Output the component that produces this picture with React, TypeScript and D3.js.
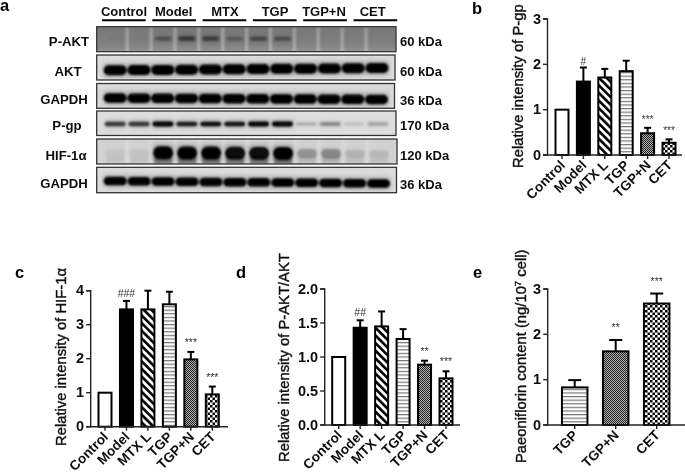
import React, { useEffect, useRef } from "react";
import * as d3 from "d3";

// ---------- bar-chart data ----------
const sixGroups = ["Control", "Model", "MTX L", "TGP", "TGP+N", "CET"];
const threeGroups = ["TGP", "TGP+N", "CET"];

const pgpValues = [1, 1.62, 1.71, 1.85, 0.48, 0.27];
const pgpErrTops = [1, 1.93, 1.9, 2.08, 0.6, 0.345];
const pgpMarks = ["", "#", "", "", "***", "***"];

const hifValues = [1, 3.45, 3.45, 3.6, 1.98, 0.95];
const hifErrTops = [1, 3.7, 4.0, 3.97, 2.2, 1.18];
const hifMarks = ["", "###", "", "", "***", "***"];

const paktValues = [1, 1.43, 1.45, 1.265, 0.887, 0.686];
const paktErrTops = [1, 1.54, 1.67, 1.41, 0.946, 0.79];
const paktMarks = ["", "##", "", "", "**", "***"];

const paeValues = [0.83, 1.625, 2.68];
const paeErrTops = [0.99, 1.875, 2.9];
const paeMarks = ["", "**", "***"];

// ---------- blot data (relative band intensity per lane) ----------
const laneIds = d3.range(12);
const blotGroups = ["Control", "Model", "MTX", "TGP", "TGP+N", "CET"];
const pAktBands = [0.05, 0.05, 0.4, 0.65, 0.6, 0.35, 0.5, 0.45, 0.02, 0.02, 0.0, 0.0];
const aktBands = [1, 1, 1, 1, 1, 1, 1, 1, 1, 1, 1, 1];
const gapdhBands1 = [1, 1, 1, 1, 1, 1, 1, 1, 1, 1, 1, 1];
const pgpBands = [0.7, 0.72, 1, 0.85, 0.95, 0.9, 0.98, 1, 0.2, 0.36, 0.12, 0.24];
const hifBands = [0.05, 0.06, 1, 1, 1, 0.95, 0.95, 1, 0.25, 0.3, 0.12, 0.1];
const gapdhBands2 = [1, 1, 1, 1, 1, 1, 1, 1, 1, 1, 1, 1];

const blotNames = ["P-AKT", "AKT", "GAPDH", "P-gp", "HIF-1α", "GAPDH"];
const blotSizes = ["60 kDa", "60 kDa", "36 kDa", "170 kDa", "120 kDa", "36 kDa"];

// ---------- layout ----------
const FONT = "'Liberation Sans', Arial, sans-serif";

const blotLayout = [
  { bands: pAktBands, top: 26.7, bottom: 51.7, left: 96.7, right: 396, yc: 38.5, yEnd: 39, thick: 5, w: 17, bg: "#848484", nameX: 69, base: 45.7, sizeBase: 46 },
  { bands: aktBands, top: 55, bottom: 80, left: 96.7, right: 395, yc: 70.3, yEnd: 68, thick: 10, w: 23, bg: "#dcdcdc", nameX: 68, base: 76, sizeBase: 76 },
  { bands: gapdhBands1, top: 83.5, bottom: 108.3, left: 96.7, right: 394.5, yc: 98, yEnd: 99.5, thick: 9.5, w: 23, bg: "#dadada", nameX: 64, base: 104, sizeBase: 104.5 },
  { bands: pgpBands, top: 111, bottom: 135.5, left: 96.7, right: 396, yc: 124, yEnd: 124, thick: 4.8, w: 21, bg: "#dedede", nameX: 67, base: 129.5, sizeBase: 129.5 },
  { bands: hifBands, top: 139, bottom: 164, left: 96.7, right: 397, yc: 152.5, yEnd: 154, thick: 13, w: 20, bg: "#d2d2d2", nameX: 66, base: 160, sizeBase: 160 },
  { bands: gapdhBands2, top: 167.3, bottom: 192.7, left: 96.7, right: 396.5, yc: 181, yEnd: 183.5, thick: 8.5, w: 23, bg: "#dcdcdc", nameX: 64, base: 187.7, sizeBase: 188.5 },
];

const groupLabelX = [124, 173.7, 225, 275, 324, 372.7];

const fills: Record<string, string> = {
  Control: "#fff",
  Model: "#000",
  "MTX L": "url(#diag)",
  TGP: "url(#horiz)",
  "TGP+N": "url(#fine)",
  CET: "url(#check)",
};

function Axes({ x, y, ticks, fmt, x0, xEnd, rotate }: any) {
  const yRef = useRef<SVGGElement>(null);
  const xRef = useRef<SVGGElement>(null);
  useEffect(() => {
    const yG = d3.select(yRef.current!);
    yG.call(d3.axisLeft(y).tickValues(ticks).tickSize(4.5).tickPadding(2).offset(0).tickFormat(fmt) as any);
    yG.selectAll("text").attr("font-family", FONT).attr("font-weight", "700").attr("font-size", 14.5).attr("fill", "#111");
    yG.selectAll("line").attr("stroke", "#222").attr("stroke-width", 1.4);
    yG.select(".domain").attr("stroke", "#222").attr("stroke-width", 1.4);

    const xG = d3.select(xRef.current!);
    xG.call(d3.axisBottom(x).tickSize(4).offset(0) as any);
    xG.select(".domain").remove();
    xG.selectAll("line").attr("stroke", "#222").attr("stroke-width", 1.4);
    xG.selectAll("text")
      .attr("font-family", FONT)
      .attr("font-weight", "700")
      .attr("font-size", 13.6)
      .attr("fill", "#111")
      .attr("text-anchor", "end")
      .attr("dy", 0)
      .attr("y", 0)
      .attr("transform", rotate);
  }, []);
  const [y0] = y.range();
  return (
    <g>
      <g ref={yRef} transform={`translate(${x0},0)`} />
      <g ref={xRef} transform={`translate(0,${y0})`} />
      <line x1={x0} x2={xEnd} y1={y0} y2={y0} stroke="#222" strokeWidth={1.4} />
    </g>
  );
}

function BarPanel(p: any) {
  const { cats, values, tops, marks, c0, cN, barW, capW, x0, xEnd, yTop, yBot, max, ticks, fmt, markGap, markSize } = p;
  const x = d3.scalePoint<string>().domain(cats).range([c0, cN]);
  const y = d3.scaleLinear().domain([0, max]).range([yBot, yTop]);
  return (
    <g>
      {cats.map((c: string, i: number) => {
        const cx = x(c)!;
        return (
          <g key={c}>
            {tops[i] > values[i] && (
              <g stroke="#000" strokeWidth={2}>
                <line x1={cx} x2={cx} y1={y(values[i])} y2={y(tops[i])} />
                <line x1={cx - capW / 2} x2={cx + capW / 2} y1={y(tops[i])} y2={y(tops[i])} />
              </g>
            )}
            <rect x={cx - barW / 2} y={y(values[i])} width={barW} height={yBot - y(values[i])} fill={fills[c]} stroke="#000" strokeWidth={2} />
            {marks[i] && (
              <text
                x={cx}
                y={y(tops[i]) - markGap + (marks[i].includes("*") ? 2 : 4)}
                textAnchor="middle"
                fontFamily={FONT}
                fontSize={markSize}
                fill="#333"
              >
                {marks[i]}
              </text>
            )}
          </g>
        );
      })}
      <Axes x={x} y={y} ticks={ticks} fmt={fmt} x0={x0} xEnd={xEnd} rotate={p.rotate} />
      <text
        transform={`translate(${p.labelX},${p.labelY}) rotate(-90)`}
        fontFamily={FONT}
        fontSize={p.labelSize}
        stroke="#111"
        strokeWidth={0.4}
        fill="#111"
      >
        {p.label}
        {p.sup && (
          <>
            <tspan fontSize={9.5} dy={-5}>{p.sup}</tspan>
            <tspan dy={5}>{p.labelEnd}</tspan>
          </>
        )}
      </text>
    </g>
  );
}

function Blot({ b, id }: any) {
  const lane = d3.scalePoint<number>().domain(laneIds).range([b.left + 18.5, b.right - 18]);
  const isPAkt = b.bands === pAktBands;
  const isHif = b.bands === hifBands;
  const thick = d3.scaleSqrt().domain([0, 1]).range([isHif ? 5 : 1.8, b.thick]);
  const yAt = d3.scaleLinear().domain([0, 11]).range([b.yc, b.yEnd]);
  const step = lane.step();
  const h = b.bottom - b.top;
  const gapLanes = laneIds.slice(0, 11);
  return (
    <g>
      <clipPath id={`clip${id}`}>
        <rect x={b.left} y={b.top} width={b.right - b.left} height={h} />
      </clipPath>
      <g clipPath={`url(#clip${id})`}>
        <rect x={b.left} y={b.top} width={b.right - b.left} height={h} fill={b.bg} />
        {(isPAkt || isHif) && (
          <g filter="url(#blur1)">
            {gapLanes.map((i) => (
              <rect
                key={i}
                x={lane(i)! + step / 2 - 1.6}
                y={b.top - 3}
                width={3.2}
                height={h + 6}
                fill="#fff"
                opacity={isPAkt ? 0.33 : 0.2}
              />
            ))}
          </g>
        )}
        {isPAkt && <rect x={b.left} y={b.top} width={b.right - b.left} height={h} fill="url(#vshade)" />}
        <g filter="url(#blur3)">
          {b.bands.map((v: number, i: number) => (
            <rect
              key={i}
              x={lane(i)! - b.w / 2}
              y={yAt(i) - thick(v) / 2 - 1.5}
              width={b.w}
              height={thick(v) + 3}
              fill="#000"
              opacity={v * (isPAkt ? 0.3 : 0.28)}
            />
          ))}
        </g>
        {isHif && (
          <g filter="url(#blur1)">
            {b.bands.map((v: number, i: number) => (
              <rect key={i} x={lane(i)! - 9} y={yAt(i) + 3} width={18} height={8} fill="#000" opacity={Math.max(v * 0.4, 0.07)} />
            ))}
          </g>
        )}
        <g filter="url(#blur1)">
          {b.bands.map((v: number, i: number) => (
            <rect
              key={i}
              x={lane(i)! - b.w / 2}
              y={yAt(i) - thick(v) / 2}
              width={b.w}
              height={thick(v)}
              rx={thick(v) / 2}
              fill="#000"
              opacity={isPAkt ? v * 0.75 : v}
            />
          ))}
        </g>
      </g>
      <rect x={b.left} y={b.top} width={b.right - b.left} height={h} fill="none" stroke="#333" strokeWidth={1.3} />
      <text x={b.nameX} y={b.base} textAnchor="middle" fontFamily={FONT} fontWeight={700} fontSize={13.2} fill="#111">
        {blotNames[id]}
      </text>
      <text x={400} y={b.sizeBase} fontFamily={FONT} fontWeight={700} fontSize={13} fill="#111">
        {blotSizes[id]}
      </text>
    </g>
  );
}

const letter = (t: string, x: number, y: number) => (
  <text x={x} y={y} fontFamily={FONT} fontWeight={700} fontSize={16.5} fill="#000">
    {t}
  </text>
);

const rotate = "translate(4,11) rotate(-45)";

export default function App() {
  return (
    <svg width={685} height={473} style={{ position: "absolute", left: 0, top: 0, background: "#fff" }}>
      <defs>
        <filter id="blur1" x="-20%" y="-50%" width="140%" height="200%">
          <feGaussianBlur stdDeviation={1} />
        </filter>
        <filter id="blur3" x="-20%" y="-100%" width="140%" height="300%">
          <feGaussianBlur stdDeviation={2.5} />
        </filter>
        <filter id="soft" x="0" y="0" width="685" height="473" filterUnits="userSpaceOnUse">
          <feGaussianBlur stdDeviation={0.3} />
        </filter>
        <linearGradient id="vshade" x1="0" x2="0" y1="0" y2="1">
          <stop offset="0" stopColor="#000" stopOpacity={0.1} />
          <stop offset="0.5" stopColor="#000" stopOpacity={0.05} />
          <stop offset="1" stopColor="#fff" stopOpacity={0.12} />
        </linearGradient>
        <pattern id="diag" width={5.4} height={5.4} patternUnits="userSpaceOnUse" patternTransform="rotate(-45)">
          <rect width={5.4} height={5.4} fill="#fff" />
          <rect width={2.6} height={5.4} fill="#000" />
        </pattern>
        <pattern id="horiz" width={3.6} height={3.6} patternUnits="userSpaceOnUse">
          <rect width={3.6} height={3.6} fill="#fff" />
          <rect y={0} width={3.6} height={1.2} fill="#777" />
        </pattern>
        <pattern id="fine" width={2} height={2} patternUnits="userSpaceOnUse">
          <rect width={2} height={2} fill="#b0b0b0" />
          <rect width={1} height={1} fill="#222" />
          <rect x={1} y={1} width={1} height={1} fill="#222" />
        </pattern>
        <pattern id="check" width={5} height={5} patternUnits="userSpaceOnUse">
          <rect width={5} height={5} fill="#fff" />
          <rect width={2.5} height={2.5} fill="#000" />
          <rect x={2.5} y={2.5} width={2.5} height={2.5} fill="#000" />
        </pattern>
      </defs>
      <g filter="url(#soft)">
        {letter("a", 0, 11)}
        {letter("b", 472, 14)}
        {letter("c", 15, 278)}
        {letter("d", 236, 278)}
        {letter("e", 473, 278)}

        {blotGroups.map((g, i) => (
          <g key={g}>
            <text x={groupLabelX[i]} y={15.5} textAnchor="middle" fontFamily={FONT} fontWeight={700} fontSize={13} fill="#111">
              {g}
            </text>
            <line x1={102 + i * 50.3} x2={145.7 + i * 50.3} y1={20.3} y2={20.3} stroke="#000" strokeWidth={2} />
          </g>
        ))}
        {blotLayout.map((b, i) => (
          <Blot key={i} b={b} id={i} />
        ))}

        <BarPanel
          cats={sixGroups} values={pgpValues} tops={pgpErrTops} marks={pgpMarks}
          c0={562} cN={669} barW={13} capW={7} x0={547.5} xEnd={682} yTop={19} yBot={155} max={3}
          ticks={[0, 1, 2, 3]} fmt={d3.format("d")} markGap={7} markSize={10} rotate={rotate}
          label="Relative intensity of P-gp" labelX={523} labelY={168} labelSize={14.8}
        />
        <BarPanel
          cats={sixGroups} values={hifValues} tops={hifErrTops} marks={hifMarks}
          c0={105} cN={212.3} barW={13} capW={7} x0={90.7} xEnd={228} yTop={290.7} yBot={426.7} max={4}
          ticks={[0, 1, 2, 3, 4]} fmt={d3.format("d")} markGap={8} markSize={10.5} rotate={rotate}
          label="Relative intensity of HIF-1α" labelX={66} labelY={446} labelSize={14.8}
        />
        <BarPanel
          cats={sixGroups} values={paktValues} tops={paktErrTops} marks={paktMarks}
          c0={338.7} cN={446} barW={13} capW={7} x0={324.7} xEnd={460} yTop={289} yBot={425} max={2}
          ticks={[0, 0.5, 1, 1.5, 2]} fmt={d3.format(".1f")} markGap={8} markSize={10.5} rotate={rotate}
          label="Relative intensity of P-AKT/AKT" labelX={289} labelY={462} labelSize={14.8}
        />
        <BarPanel
          cats={threeGroups} values={paeValues} tops={paeErrTops} marks={paeMarks}
          c0={574.7} cN={656.7} barW={25.5} capW={13} x0={547.7} xEnd={685} yTop={289} yBot={425} max={3}
          ticks={[0, 1, 2, 3]} fmt={d3.format("d")} markGap={11} markSize={10.5} rotate={rotate}
          label="Paeoniflorin content (ng/10" sup="7" labelEnd=" cell)" labelX={526} labelY={463} labelSize={14.8}
        />
      </g>
    </svg>
  );
}
